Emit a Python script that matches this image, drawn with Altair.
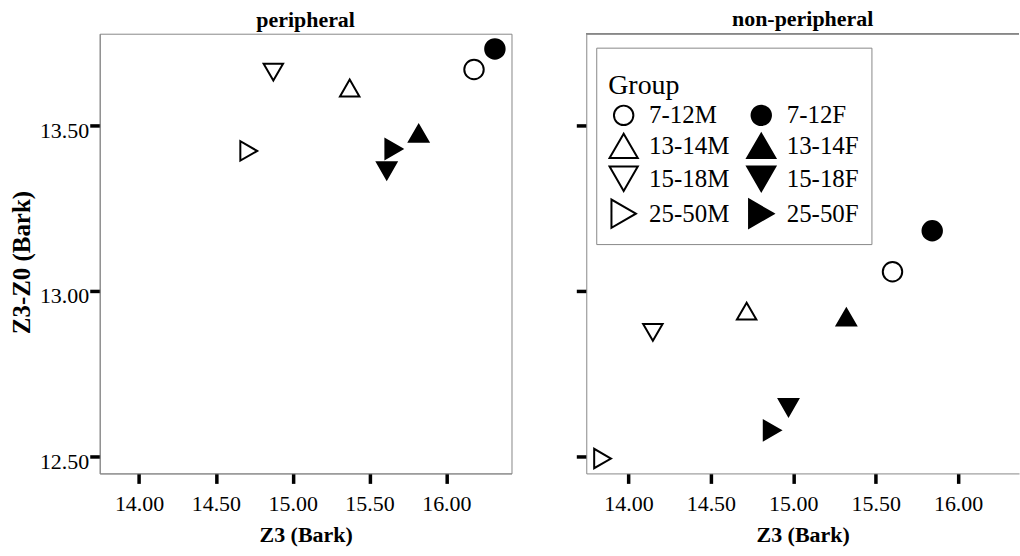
import altair as alt
import pandas as pd

groups = ["7-12M", "7-12F", "13-14M", "13-14F", "15-18M", "15-18F", "25-50M", "25-50F"]
shape_range = ["circle", "circle", "triangle-up", "triangle-up",
               "triangle-down", "triangle-down", "triangle-right", "triangle-right"]
fill_range = ["white", "black"] * 4
stroke_range = ["black"] * 8

periph_x = [16.18, 16.316, 15.371, 15.820, 14.874, 15.612, 14.714, 15.658]
periph_y = [13.668, 13.730, 13.612, 13.475, 13.660, 13.362, 13.422, 13.428]
nonper_x = [15.602, 15.843, 14.717, 15.322, 14.148, 14.971, 13.843, 14.872]
nonper_y = [13.057, 13.181, 12.938, 12.920, 12.874, 12.647, 12.493, 12.578]

x_ticks = [14.0, 14.5, 15.0, 15.5, 16.0]
y_ticks = [12.5, 13.0, 13.5]

FONT = "Liberation Serif"
FRAME = "#888888"
H = 441
W_LEFT = 413
W_RIGHT = 434
Y_DOM = [12.448, 13.776]
X_MIN = 13.744
X_LEFT_MAX = 16.424
X_RIGHT_MAX = X_MIN + (X_LEFT_MAX - X_MIN) * (W_RIGHT / 443.0)

df_p = pd.DataFrame({"Group": groups, "Z3": periph_x, "Z3Z0": periph_y})
df_n = pd.DataFrame({"Group": groups, "Z3": nonper_x, "Z3Z0": nonper_y})


def xaxis():
    return alt.Axis(values=x_ticks, format=".2f", title="Z3 (Bark)", grid=False,
                    domainColor=FRAME, tickColor="black", tickWidth=3.5, tickSize=10,
                    labelFontSize=22, labelPadding=10, labelColor="black",
                    titleFontSize=22, titleFontWeight="bold", titlePadding=10,
                    titleColor="black", labelFlush=False)


legend = alt.Legend(
    title=["", "Group"], orient="none", legendX=10, legendY=14, columns=2,
    direction="horizontal",
    titleFontSize=28, titleFontWeight="normal", titleColor="black", titleLineHeight=12,
    titlePadding=0, titleFont=FONT,
    labelFontSize=25, labelColor="black", labelFont=FONT, labelOffset=10,
    symbolSize=alt.ExprRef(expr="datum.value == '7-12M' || datum.value == '7-12F' ? 380 : 800"),
    symbolStrokeWidth=2, symbolStrokeColor="black",
    columnPadding=13, rowPadding=0, padding=12,
    strokeColor=FRAME, fillColor="white",
)


def points(df, xmax, show_legend, yaxis):
    leg = legend if show_legend else None
    return alt.Chart(df).mark_point(filled=True, size=380, strokeWidth=2,
                                    opacity=1).encode(
        x=alt.X("Z3:Q", scale=alt.Scale(domain=[X_MIN, xmax], nice=False, zero=False),
                axis=xaxis()),
        y=alt.Y("Z3Z0:Q", scale=alt.Scale(domain=Y_DOM, nice=False, zero=False),
                axis=yaxis),
        shape=alt.Shape("Group:N", scale=alt.Scale(domain=groups, range=shape_range),
                        legend=leg),
        fill=alt.Fill("Group:N", scale=alt.Scale(domain=groups, range=fill_range),
                      legend=leg),
        stroke=alt.Stroke("Group:N", scale=alt.Scale(domain=groups, range=stroke_range),
                          legend=leg),
    )


yaxis_left = alt.Axis(values=y_ticks, format=".2f", title="Z3-Z0 (Bark)", grid=False,
                      domainColor=FRAME, tickColor="black", tickWidth=3.5, tickSize=10,
                      labelFontSize=22, labelPadding=1, labelOffset=5, labelColor="black",
                      titleFontSize=25, titleFontWeight="bold", titleColor="black",
                      titleAngle=-90, titleBaseline="bottom", titleAlign="center",
                      titleX=-65, titleY=229)
yaxis_right = alt.Axis(values=y_ticks, labels=False, title=None, grid=False,
                       domainColor=FRAME, tickColor="black", tickWidth=3.5, tickSize=10)

title_kw = dict(fontSize=22, fontWeight="bold", font=FONT,
                offset=2, anchor="middle", color="black")

left = points(df_p, X_LEFT_MAX, False, yaxis_left).properties(
    width=W_LEFT, height=H, title=alt.TitleParams("peripheral", **title_kw))

top_rule = alt.Chart(df_n).mark_rule(color=FRAME, strokeWidth=1).encode(
    x=alt.value(0), x2=alt.value(W_RIGHT), y=alt.value(0))

right = alt.layer(points(df_n, X_RIGHT_MAX, True, yaxis_right), top_rule).properties(
    width=W_RIGHT, height=H, title=alt.TitleParams("non-peripheral", **title_kw),
    view=alt.ViewBackground(stroke="transparent", strokeOpacity=0))

chart = alt.hconcat(left, right, spacing=62).resolve_scale(
    shape="independent", fill="independent", stroke="independent",
    x="independent", y="independent"
).properties(
    padding={"left": 9, "top": 7, "right": 0, "bottom": 0},
    background="white",
).configure(font=FONT).configure_view(stroke=FRAME, strokeWidth=1)

chart.save("out.html", embed_options={"renderer": "svg", "actions": False})
